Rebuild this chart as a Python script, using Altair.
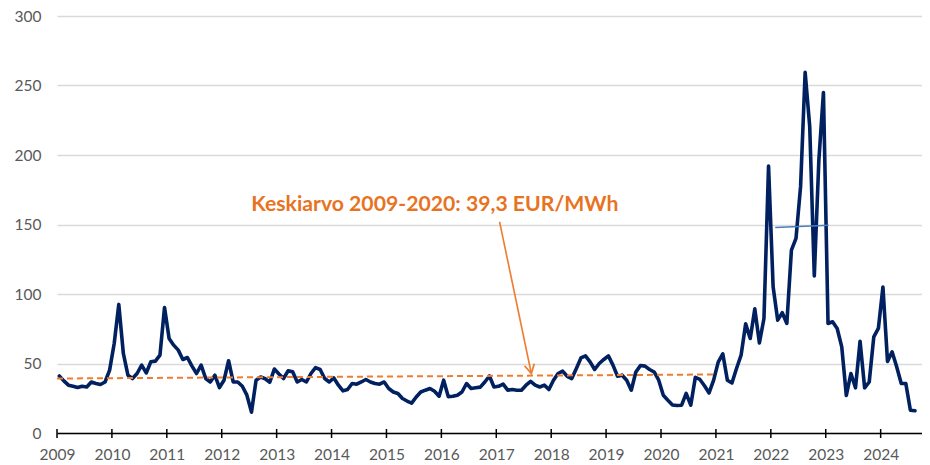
import altair as alt
import pandas as pd

# ---------------- data (monthly price, EUR/MWh, Jan 2009 .. Aug 2024) -------------
start_year = 2009
price = [
    41, 37.5, 34.4, 33.6, 32.7, 33.6, 33.1, 36.7, 35.6, 34.9, 36.7, 45.2,          # 2009
    64.4, 92.5, 57.2, 41.6, 39.2, 42.8, 48.8, 43.2, 51.2, 51.7, 56, 90.3,           # 2010
    68, 63.2, 59.6, 52.9, 54.3, 48.1, 42.8, 48.8, 39.2, 36.7, 41.6, 32.7,           # 2011
    38, 52, 36.7, 36.7, 33.6, 27.2, 15, 38, 40.3, 39, 36.5, 46,                     # 2012
    42.5, 39.2, 44.7, 44, 36.7, 38.5, 36.7, 42.8, 47, 45.7, 39.2, 36.7,             # 2013
    39.6, 34.4, 30.3, 31.3, 35.6, 35.1, 36.7, 38.5, 36.7, 35.6, 35.1, 36.7,         # 2014
    32, 29.5, 28.4, 24.8, 23, 21.5, 25.9, 29.5, 30.8, 32, 30, 26.5,                 # 2015
    38, 26.2, 26.4, 27.2, 29.5, 35.6, 32, 32.5, 33, 36.7, 41, 33.1,                 # 2016
    33.6, 35.1, 30.8, 31.3, 30.8, 30.8, 34.4, 37.2, 34.4, 33.1, 34.4, 31.3,         # 2017
    38, 42.8, 44.5, 40.8, 39.2, 46.4, 54, 55.5, 51.2, 45.7, 50, 52.9,               # 2018
    55.5, 48.8, 40.8, 41.6, 38, 30.8, 43.9, 48.5, 48.1, 45.7, 43.9, 38,             # 2019
    27.2, 23.6, 20.2, 19.8, 20, 28.5, 20, 40, 38.5, 34, 28.8, 38,                   # 2020
    51, 57, 38, 36, 46.4, 56, 78.5, 68, 89.3, 64.8, 82.4, 192,                      # 2021
    105.2, 81.2, 86.5, 78.8, 131.6, 140, 177.2, 259.5, 220.5, 113, 196.5, 245,      # 2022
    78.8, 80, 75.2, 62, 27, 42.8, 32.5, 66, 32.5, 36.7, 69.2, 75.2,                 # 2023
    105, 51.5, 58.4, 47.6, 35.6, 35.6, 16.4, 16,                                    # 2024
]
years = list(range(2009, 2025))
y_ticks = [0, 50, 100, 150, 200, 250, 300]

# annotations (data coordinates)
avg_label = "Keskiarvo 2009-2020: 39,3 EUR/MWh"
label_x, label_y = 2015.88, 160.0
avg_x = [2009.0, 2021.0]
avg_y = [39.2, 42.1]
mean22_x = [2022.08, 2023.05]
mean22_y = [147.8, 149.5]
arrow_x = [2017.06, 2017.638]
arrow_y = [152.0, 42.8]

# ---------------- frames ------------------------------------------------------------
df = pd.DataFrame({
    "t": [start_year + (i + 0.5) / 12 for i in range(len(price))],
    "v": price,
})
df_avg = pd.DataFrame({"t": avg_x, "v": avg_y})
df_m22 = pd.DataFrame({"t": mean22_x, "v": mean22_y})
df_arrow = pd.DataFrame({"t": arrow_x, "v": arrow_y})
df_tip = pd.DataFrame({"t": [arrow_x[1]], "v": [arrow_y[1]]})
df_label = pd.DataFrame({"t": [label_x], "v": [label_y], "txt": [avg_label]})
df_years = pd.DataFrame({"t": years})

W, H = 865, 417
PX_PER_YEAR = 54.91
xs = alt.Scale(domain=[2009, 2009 + W / PX_PER_YEAR], nice=False, zero=False)
ys = alt.Scale(domain=[0, 300], nice=False, zero=True)

FONT = "Lato"
LABEL_COLOR = "#595959"
ORANGE = "#ED7D31"
NAVY = "#002060"

x_axis = alt.Axis(
    values=years, format="d", title=None, grid=False, ticks=False,
    domain=True, domainColor="#000000", domainWidth=1.5,
    labelFont=FONT, labelFontSize=15.5, labelColor=LABEL_COLOR, labelPadding=14,
    labelFlush=False, labelOverlap=False,
)
y_axis = alt.Axis(
    values=y_ticks, title=None, grid=True, gridColor="#D9D9D9", gridWidth=1.3,
    domain=False, ticks=False,
    labelFont=FONT, labelFontSize=15.5, labelColor=LABEL_COLOR, labelPadding=16,
    labelFlush=False, labelOverlap=False,
)

X = alt.X("t:Q", scale=xs, axis=x_axis)
Y = alt.Y("v:Q", scale=ys, axis=y_axis)

main = alt.Chart(df).mark_line(
    color=NAVY, strokeWidth=3.6, strokeJoin="round", strokeCap="round"
).encode(x=X, y=Y)

avg_line = alt.Chart(df_avg).mark_line(
    color=ORANGE, strokeWidth=2, strokeDash=[6, 4]
).encode(x=X, y=Y)

m22_line = alt.Chart(df_m22).mark_line(color="#4A7EBB", strokeWidth=1.6).encode(x=X, y=Y)

arrow = alt.Chart(df_arrow).mark_line(color=ORANGE, strokeWidth=1.6).encode(x=X, y=Y)

tip = alt.Chart(df_tip).mark_point(
    shape="M -0.55 -1 L 0 0 L 0.55 -1", size=324, angle=348,
    color=ORANGE, strokeWidth=1.8, filled=False, opacity=1,
).encode(x=X, y=Y)

label = alt.Chart(df_label).mark_text(
    font=FONT, fontWeight="bold", fontSize=21.2, color="#E8731F",
    align="center", baseline="alphabetic",
).encode(x=X, y=Y, text="txt:N")

ticks = alt.Chart(df_years).mark_rule(color="#000000", strokeWidth=1.5).encode(
    x=X,
    y=alt.value(H - 4),
    y2=alt.value(H + 5),
)

chart = alt.layer(main, avg_line, m22_line, arrow, tip, label, ticks).properties(
    width=W, height=H,
    autosize=alt.AutoSizeParams(type="none"),
    padding={"left": 49, "top": 8, "right": 0, "bottom": 30},
    background="white",
).configure_view(stroke=None)

chart.save("out.html", embed_options={"renderer": "svg", "actions": False})
